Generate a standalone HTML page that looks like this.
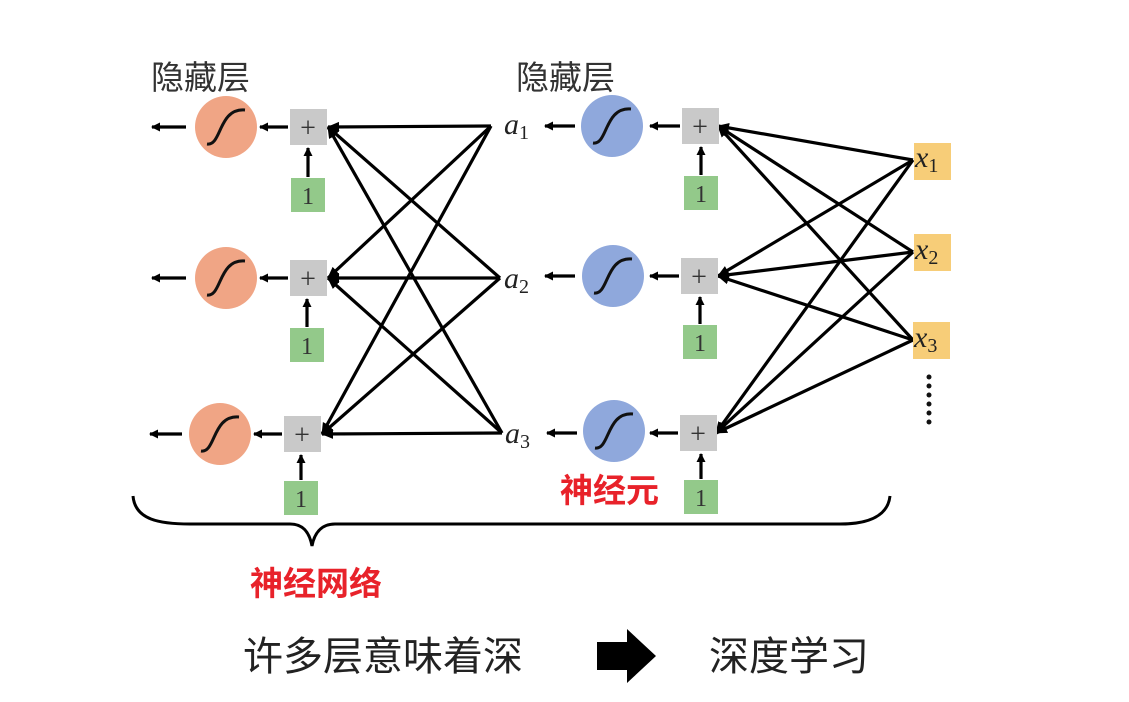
<!DOCTYPE html>
<html><head><meta charset="utf-8"><style>
html,body{margin:0;padding:0;background:#fff;}
svg{display:block;}
.cj{font-family:"Liberation Sans","Noto Sans CJK SC",sans-serif;}
.m{font-family:"Liberation Serif","DejaVu Serif",serif;font-style:italic;}
</style></head><body>
<svg width="1129" height="702" viewBox="0 0 1129 702" xmlns="http://www.w3.org/2000/svg">
<defs>
<marker id="ah" markerWidth="9" markerHeight="9" refX="8" refY="4.5" orient="auto" markerUnits="userSpaceOnUse" viewBox="0 0 9 9">
<path d="M0,0 L9,4.5 L0,9 z" fill="#000"/></marker>
<marker id="ah2" markerWidth="12" markerHeight="12" refX="11" refY="6" orient="auto" markerUnits="userSpaceOnUse" viewBox="0 0 12 12">
<path d="M0,1 L12,6 L0,11 z" fill="#000"/></marker>
</defs>
<g class="cj" font-size="33" fill="#333">
<text x="151" y="89">隐藏层</text>
<text x="516" y="89">隐藏层</text>
</g>
<g stroke="#000" stroke-width="3.2" fill="none" marker-end="url(#ah2)">
<line x1="491" y1="126" x2="328" y2="127"/>
<line x1="500" y1="278" x2="328" y2="127"/>
<line x1="502" y1="433" x2="328" y2="127"/>
<line x1="491" y1="126" x2="328" y2="278"/>
<line x1="500" y1="278" x2="328" y2="278"/>
<line x1="502" y1="433" x2="328" y2="278"/>
<line x1="491" y1="126" x2="322" y2="434"/>
<line x1="500" y1="278" x2="322" y2="434"/>
<line x1="502" y1="433" x2="322" y2="434"/>
<line x1="913" y1="160" x2="718" y2="126"/>
<line x1="913" y1="252" x2="718" y2="126"/>
<line x1="913" y1="340" x2="718" y2="126"/>
<line x1="913" y1="160" x2="718" y2="276"/>
<line x1="913" y1="252" x2="718" y2="276"/>
<line x1="913" y1="340" x2="718" y2="276"/>
<line x1="913" y1="160" x2="716" y2="433"/>
<line x1="913" y1="252" x2="716" y2="433"/>
<line x1="913" y1="340" x2="716" y2="433"/>
</g>
<g>
<circle cx="226" cy="127" r="31" fill="#f0a585"/>
<circle cx="226" cy="278" r="31" fill="#f0a585"/>
<circle cx="220" cy="434" r="31" fill="#f0a585"/>
<circle cx="612" cy="126" r="31" fill="#8fa8dc"/>
<circle cx="613" cy="276" r="31" fill="#8fa8dc"/>
<circle cx="614" cy="431" r="31" fill="#8fa8dc"/>
</g>
<g stroke="#111" stroke-width="3" fill="none">
<path d="M207,144 C222,146 218,108 245,110"/>
<path d="M207,295 C222,297 218,259 245,261"/>
<path d="M201,451 C216,453 212,415 239,417"/>
<path d="M593,143 C608,145 604,107 631,109"/>
<path d="M594,293 C609,295 605,257 632,259"/>
<path d="M595,448 C610,450 606,412 633,414"/>
</g>
<g fill="#c9c9c9">
<rect x="290" y="109" width="37" height="36"/>
<rect x="290" y="260" width="37" height="36"/>
<rect x="284" y="416" width="37" height="36"/>
<rect x="682" y="108" width="37" height="36"/>
<rect x="681" y="258" width="37" height="36"/>
<rect x="680" y="415" width="37" height="36"/>
</g>
<g fill="#93c98a">
<rect x="291" y="178" width="34" height="34"/>
<rect x="290" y="328" width="34" height="34"/>
<rect x="284" y="481" width="34" height="34"/>
<rect x="684" y="176" width="34" height="34"/>
<rect x="683" y="325" width="34" height="34"/>
<rect x="684" y="480" width="34" height="34"/>
</g>
<g fill="#f7cd78">
<rect x="914" y="143" width="37" height="37"/>
<rect x="914" y="234" width="37" height="37"/>
<rect x="913" y="322" width="37" height="37"/>
</g>
<g font-family="Liberation Serif,serif" font-size="28" fill="#333" text-anchor="middle">
<text x="308" y="137">+</text><text x="308" y="288">+</text><text x="302" y="444">+</text>
<text x="700" y="136">+</text><text x="699" y="286">+</text><text x="698" y="443">+</text>
</g>
<g font-family="Liberation Serif,serif" font-size="24" fill="#333" text-anchor="middle">
<text x="308" y="204">1</text><text x="307" y="354">1</text><text x="301" y="507">1</text>
<text x="701" y="202">1</text><text x="700" y="351">1</text><text x="701" y="506">1</text>
</g>
<g stroke="#000" stroke-width="3.2" marker-end="url(#ah)">
<line x1="186" y1="127" x2="152" y2="127"/>
<line x1="186" y1="278" x2="152" y2="278"/>
<line x1="182" y1="434" x2="150" y2="434"/>
<line x1="288" y1="127" x2="260" y2="127"/>
<line x1="288" y1="278" x2="260" y2="278"/>
<line x1="282" y1="434" x2="254" y2="434"/>
<line x1="680" y1="126" x2="650" y2="126"/>
<line x1="679" y1="276" x2="650" y2="276"/>
<line x1="678" y1="433" x2="650" y2="433"/>
<line x1="575" y1="126" x2="545" y2="126"/>
<line x1="575" y1="276" x2="545" y2="276"/>
<line x1="577" y1="433" x2="547" y2="433"/>
<line x1="308" y1="177" x2="308" y2="148"/>
<line x1="307" y1="327" x2="307" y2="299"/>
<line x1="301" y1="480" x2="301" y2="455"/>
<line x1="701" y1="175" x2="701" y2="147"/>
<line x1="700" y1="324" x2="700" y2="297"/>
<line x1="701" y1="479" x2="701" y2="454"/>
</g>
<g class="m" font-size="30" fill="#222">
<text x="504" y="134">a<tspan font-size="20" font-style="normal" dy="5">1</tspan></text>
<text x="504" y="288">a<tspan font-size="20" font-style="normal" dy="5">2</tspan></text>
<text x="505" y="443">a<tspan font-size="20" font-style="normal" dy="5">3</tspan></text>
<text x="915" y="167">x<tspan font-size="20" font-style="normal" dy="5">1</tspan></text>
<text x="915" y="259">x<tspan font-size="20" font-style="normal" dy="5">2</tspan></text>
<text x="914" y="347">x<tspan font-size="20" font-style="normal" dy="5">3</tspan></text>
</g>
<g fill="#111">
<circle cx="929" cy="377" r="2.5"/><circle cx="929" cy="386" r="2.5"/><circle cx="929" cy="395" r="2.5"/>
<circle cx="929" cy="404" r="2.5"/><circle cx="929" cy="413" r="2.5"/><circle cx="929" cy="422" r="2.5"/>
</g>
<path d="M133,496 C135,520 160,524 190,524 L290,524 C305,524 310,535 312,546 C314,535 320,524 335,524 L840,524 C870,524 888,515 890,496" stroke="#000" stroke-width="3" fill="none"/>
<g class="cj" font-size="33" fill="#e8222a" font-weight="bold">
<text x="250" y="595">神经网络</text>
<text x="560" y="502">神经元</text>
</g>
<g class="cj" font-size="40" fill="#222">
<text x="243" y="670">许多层意味着深</text>
<text x="709" y="670">深度学习</text>
</g>
<path d="M597,642 L627,642 L627,629 L656,656 L627,683 L627,670 L597,670 z" fill="#000"/>
</svg>
</body></html>
